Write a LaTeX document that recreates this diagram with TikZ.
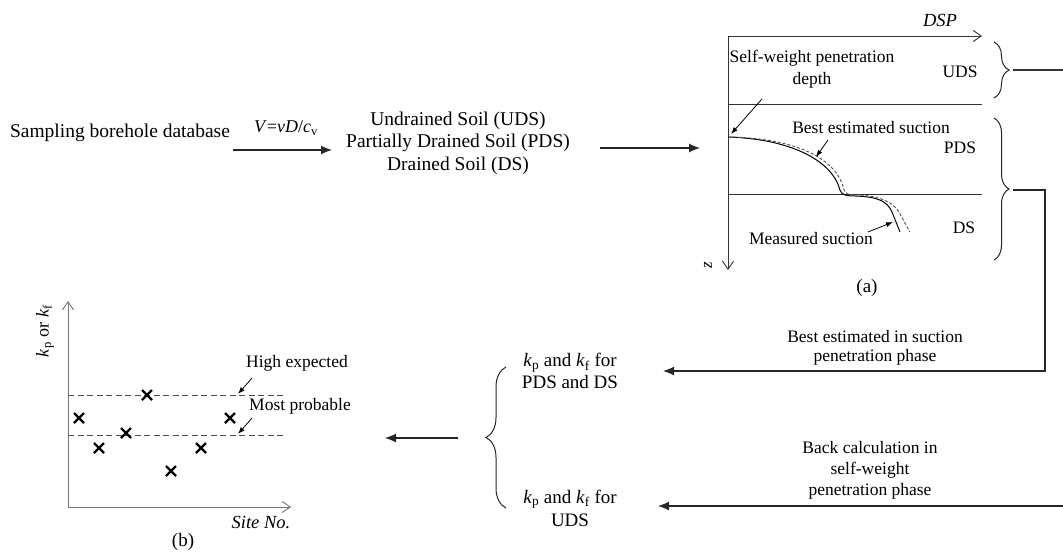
\documentclass[tikz,border=0pt]{standalone}
\usepackage{fontspec}
\setmainfont{Liberation Serif}
\usetikzlibrary{arrows.meta,decorations.pathreplacing,calc}
\begin{document}
\begin{tikzpicture}[x=1pt,y=-1pt,
  txt/.style={inner sep=0pt,align=center,font=\fontsize{19.5}{22.5}\selectfont},
  stxt/.style={inner sep=0pt,align=center,font=\fontsize{17.5}{20.5}\selectfont},
  flow/.style={draw=black!85,line width=1.2pt,-{Latex[length=11pt,width=9pt]}},
  axisline/.style={draw=black!80,line width=0.9pt,-{Straight Barb[length=8pt,width=11pt]}},
  ann/.style={draw=black,line width=0.8pt,-{Latex[length=7pt,width=5pt]}},
  plain/.style={draw=black!80,line width=0.9pt},
  bracestyle/.style={draw=black!85,line width=1pt,decorate,decoration={brace,amplitude=#1}},
  xmark/.style={draw=black,line width=2.3pt},
  dashline/.style={draw=black!70,line width=0.9pt,dash pattern=on 6pt off 3.5pt}
]
\useasboundingbox (0,0) rectangle (1063,552);

% ---------- top flow ----------
\node[txt] (samp) at (120,133) {Sampling borehole database};
\coordinate (a1s) at (233,150);
\coordinate (a1e) at (332,150);
\draw[flow] (a1s) -- (a1e);
\node[stxt,font=\fontsize{18}{20}\selectfont] (vlab) at (286,128) {\textit{V}=\textit{vD}/\textit{c}\textsubscript{v}};
\node[txt] (soil) at (458,143) {Undrained Soil (UDS)\\Partially Drained Soil (PDS)\\Drained Soil (DS)};
\coordinate (a2s) at (600,148);
\coordinate (a2e) at (700,148);
\draw[flow] (a2s) -- (a2e);

% ---------- diagram (a) ----------
\coordinate (O) at (728,36);
\coordinate (xend) at (982,36);
\coordinate (zend) at (728,270);
\draw[axisline] (O) -- (xend);
\draw[axisline] (O) -- (zend);
\node[stxt,font=\fontsize{18.5}{20}\itshape] (dsp) at (940,20) {DSP};
\node[stxt,font=\fontsize{17}{20}\itshape,rotate=90] (zlab) at (708,265) {z};
\coordinate (l1a) at (728,104);
\coordinate (l1b) at (982,104);
\coordinate (l2a) at (728,194);
\coordinate (l2b) at (982,194);
\draw[plain] (l1a) -- (l1b);
\draw[plain] (l2a) -- (l2b);

\node[stxt,font=\fontsize{17.5}{22}\selectfont] (sw) at (812,69) {Self-weight penetration\\depth};
\node[stxt] (uds) at (960,72) {UDS};
\node[stxt] (pds) at (960,148) {PDS};
\node[stxt] (ds) at (964,228) {DS};
\node[stxt] (best) at (871,128) {Best estimated suction};
\node[stxt] (meas) at (811,239) {Measured suction};
\node[txt,font=\fontsize{19}{20}\selectfont] (alab) at (867,288) {(a)};

% curves
\coordinate (c0) at (728,137);
\draw[draw=black,line width=1pt] (c0) .. controls (790,139) and (832,160) .. (840,190)
  .. controls (842,195) and (845,196) .. (856,196)
  .. controls (878,197) and (887,201) .. (892,212) -- (900,232);
\draw[dashline,dash pattern=on 3pt off 2pt] (c0) .. controls (795,138) and (837,158) .. (844,190)
  .. controls (846,194) and (848,195) .. (858,195)
  .. controls (884,196) and (896,205) .. (900,214) -- (910,232);

\coordinate (swA) at (762,99);
\coordinate (swB) at (731,134);
\draw[ann] (swA) -- (swB);
\coordinate (beA) at (828,140);
\coordinate (beB) at (816,157);
\draw[ann] (beA) -- (beB);
\coordinate (meA) at (868,232);
\coordinate (meB) at (893,222);
\draw[ann] (meA) -- (meB);

% braces
\coordinate (bu1) at (994,42);
\coordinate (bu2) at (994,98);
\draw[bracestyle=15pt] (bu1) -- (bu2);
\coordinate (bp1) at (994,118);
\coordinate (bp2) at (994,260);
\draw[bracestyle=15pt] (bp1) -- (bp2);
\coordinate (udstip) at (1013,70);
\coordinate (redge1) at (1063,70);
\draw[plain,line width=1.2pt] (udstip) -- (redge1);
\coordinate (pdstip) at (1013,190);
\coordinate (kpdsend) at (663,371);
\draw[flow] (pdstip) -- ++(32,0) |- (kpdsend);
\coordinate (redge2) at (1063,506);
\coordinate (kudsend) at (658,506);
\draw[flow] (redge2) -- (kudsend);

\node[stxt,font=\fontsize{17.5}{19.5}\selectfont] (bestin) at (875,348) {Best estimated in suction\\penetration phase};
\node[stxt,font=\fontsize{17.5}{21}\selectfont] (backcalc) at (870,470) {Back calculation in\\self-weight\\penetration phase};

% ---------- lower middle ----------
\node[txt,font=\fontsize{19}{22}\selectfont] (kpds) at (570,371) {\textit{k}\textsubscript{p} and \textit{k}\textsubscript{f} for\\PDS and DS};
\node[txt,font=\fontsize{19}{23}\selectfont] (kuds) at (570,508) {\textit{k}\textsubscript{p} and \textit{k}\textsubscript{f} for\\UDS};
\coordinate (bl1) at (506,508);
\coordinate (bl2) at (506,367);
\draw[bracestyle=20pt] (bl1) -- (bl2);
\coordinate (la) at (458,438);
\coordinate (lb) at (385,438);
\draw[flow] (la) -- (lb);

% ---------- plot (b) ----------
\coordinate (P0) at (68,507);
\coordinate (Py) at (68,301);
\coordinate (Px) at (291,507);
\draw[axisline,draw=black!55] (P0) -- (Py);
\draw[axisline,draw=black!55] (P0) -- (Px);
\node[stxt,font=\fontsize{18}{20}\selectfont,rotate=90] (kax) at (45,331) {\textit{k}\textsubscript{p} or \textit{k}\textsubscript{f}};
\coordinate (h1) at (68,395);
\coordinate (h2) at (284,395);
\coordinate (m1) at (68,435);
\coordinate (m2) at (284,435);
\draw[dashline] (h1) -- (h2);
\draw[dashline] (m1) -- (m2);
\foreach \px/\py in {79/418, 99/448, 126/433, 147/395, 171/471, 201/448, 230/418}
  \draw[xmark] (\px-5,\py-5) -- (\px+5,\py+5) (\px-5,\py+5) -- (\px+5,\py-5);
\node[stxt] (high) at (297,363) {High expected};
\node[stxt] (most) at (300,406) {Most probable};
\coordinate (hA) at (252,378);
\coordinate (hB) at (238,394);
\draw[ann] (hA) -- (hB);
\coordinate (mA) at (252,418);
\coordinate (mB) at (238,434);
\draw[ann] (mA) -- (mB);
\node[stxt,font=\fontsize{18.5}{20}\itshape] (site) at (261,522) {Site No.};
\node[txt,font=\fontsize{19}{20}\selectfont] (blab) at (183,542) {(b)};
\end{tikzpicture}
\end{document}
